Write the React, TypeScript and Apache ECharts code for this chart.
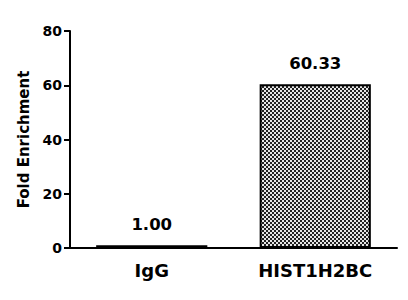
import React, { useEffect, useRef } from "react";
import * as echarts from "echarts";

const categories = ["IgG", "HIST1H2BC"];
const values = [1.0, 60.33];
const valueLabels = ["1.00", "60.33"];
const yTicks = [0, 20, 40, 60, 80];

function makePattern(): HTMLCanvasElement {
  const c = document.createElement("canvas");
  c.width = 4;
  c.height = 4;
  const ctx = c.getContext("2d")!;
  ctx.fillStyle = "#e6e6e6";
  ctx.fillRect(0, 0, 4, 4);
  ctx.fillStyle = "#222222";
  ctx.fillRect(0, 0, 2, 2);
  ctx.fillRect(2, 2, 2, 2);
  return c;
}

export default function App() {
  const ref = useRef<HTMLDivElement>(null);
  useEffect(() => {
    if (!ref.current) return;
    const chart = echarts.init(ref.current, undefined, { renderer: "svg" });
    const pattern = makePattern();
    const font = "DejaVu Sans, Liberation Sans, Arial, sans-serif";
    chart.setOption({
      animation: false,
      backgroundColor: "#ffffff",
      grid: { left: 70, right: 11, top: 31, bottom: 52 },
      xAxis: {
        type: "category",
        data: categories,
        axisLine: { lineStyle: { color: "#000", width: 2 } },
        axisTick: { alignWithLabel: true, length: 6, lineStyle: { color: "#000", width: 2 } },
        axisLabel: { color: "#000", fontWeight: "bold", fontSize: 18, fontFamily: font, margin: 13 },
      },
      yAxis: {
        type: "value",
        min: yTicks[0],
        max: yTicks[yTicks.length - 1],
        interval: 20,
        name: "Fold Enrichment",
        nameLocation: "middle",
        nameGap: 35,
        nameTextStyle: { color: "#000", fontWeight: "bold", fontSize: 15, fontFamily: font },
        axisLine: { show: true, lineStyle: { color: "#000", width: 2 } },
        axisTick: { show: true, length: 6, lineStyle: { color: "#000", width: 2 } },
        axisLabel: { color: "#000", fontWeight: "bold", fontSize: 14, fontFamily: font, margin: 8 },
        splitLine: { show: false },
      },
      series: [
        {
          type: "bar",
          barWidth: "68%",
          data: values.map((v, i) => ({
            value: v,
            itemStyle:
              i === 0
                ? { color: "#000", borderColor: "#000", borderWidth: 2 }
                : {
                    color: { image: pattern, repeat: "repeat" },
                    borderColor: "#000",
                    borderWidth: 2,
                  },
          })),
          label: {
            show: true,
            position: "top",
            distance: 12,
            color: "#000",
            fontWeight: "bold",
            fontSize: 16.5,
            fontFamily: font,
            formatter: (p: any) => valueLabels[p.dataIndex],
          },
        },
      ],
    });
    return () => chart.dispose();
  }, []);
  return <div ref={ref} style={{ width: 408, height: 300, margin: -8 }} />;
}
